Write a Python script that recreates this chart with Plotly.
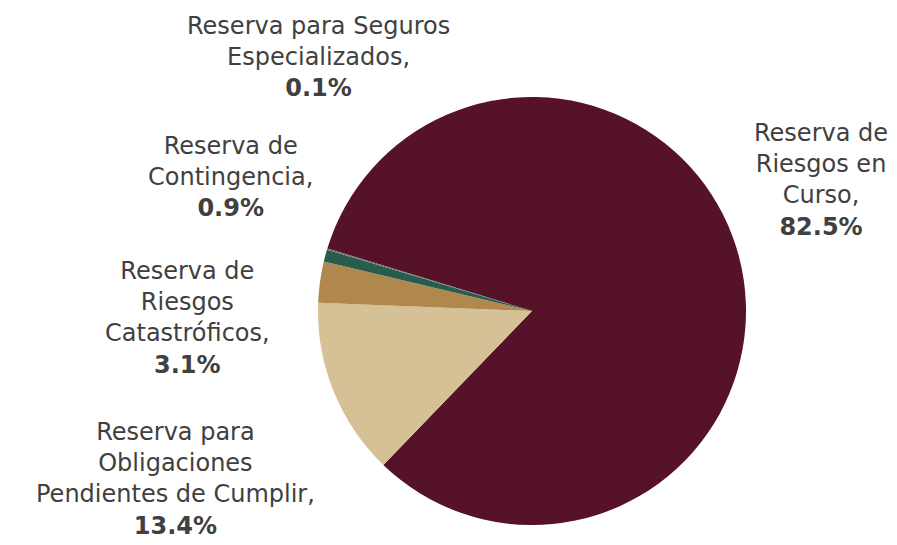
import plotly.graph_objects as go

labels = ['Reserva de Riesgos en Curso', 'Reserva para Obligaciones Pendientes de Cumplir',
          'Reserva de Riesgos Catastróficos', 'Reserva de Contingencia',
          'Reserva para Seguros Especializados']
values = [82.5, 13.4, 3.1, 0.9, 0.1]
colors = ['#561228', '#D6C096', '#B0884D', '#285C4D', '#6F7271']

# label text as it appears beside the pie
label_text = ['Reserva de<br>Riesgos en<br>Curso,', 'Reserva para<br>Obligaciones<br>Pendientes de Cumplir,',
              'Reserva de<br>Riesgos<br>Catastróficos,', 'Reserva de<br>Contingencia,',
              'Reserva para Seguros<br>Especializados,']
label_pos = [(821, 180), (175, 479), (187, 318), (230, 177), (318, 57)]

W, H = 897, 545
off = 8  # page body margin
cx, cy, r = 532 - off, 311 - off, 214

fig = go.Figure(go.Pie(
    labels=labels, values=values, sort=False, direction='clockwise', rotation=287,
    marker=dict(colors=colors, line=dict(width=0)), textinfo='none', hoverinfo='label+percent',
    domain=dict(x=[(cx - r) / W, (cx + r) / W], y=[1 - (cy + r) / H, 1 - (cy - r) / H]),
    showlegend=False))

for txt, v, (x, y) in zip(label_text, values, label_pos):
    fig.add_annotation(x=(x - off) / W, y=1 - (y - off) / H, xref='paper', yref='paper',
                       xanchor='center', yanchor='middle', showarrow=False,
                       text='%s<br><b>%.1f%%</b>' % (txt, v), align='center',
                       font=dict(family='DejaVu Sans', size=24, color='#404040'))

fig.update_layout(width=W, height=H, margin=dict(l=0, r=0, t=0, b=0),
                  paper_bgcolor='white', plot_bgcolor='white')
fig.write_html('out.html')
